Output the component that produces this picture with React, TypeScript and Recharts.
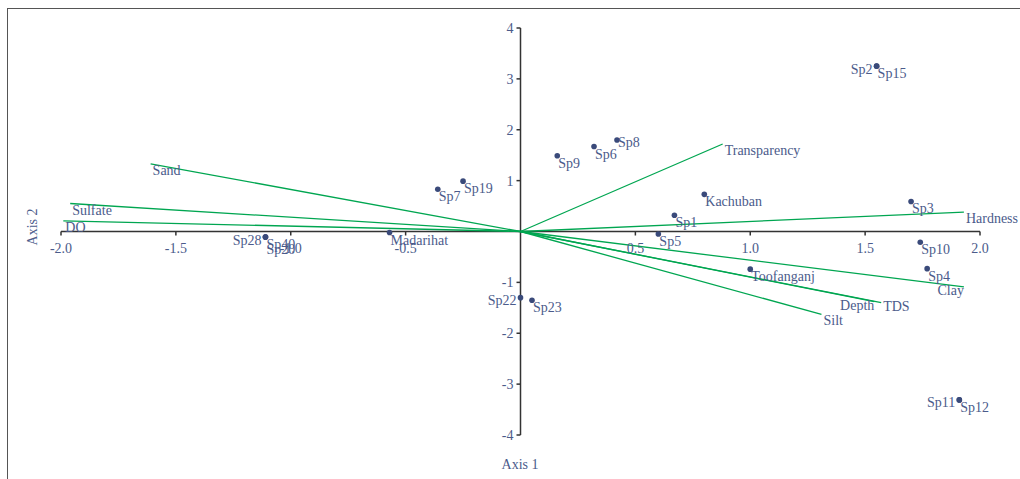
import React from 'react';
import {
  ScatterChart,
  Scatter,
  XAxis,
  YAxis,
  ReferenceLine,
} from 'recharts';

// Environmental vectors (biplot arrows)
const vectorNames = ['Sand', 'Sulfate', 'DO', 'Transparency', 'Hardness', 'Clay', 'TDS', 'Depth', 'Silt'];
const vectorX = [-1.61, -1.96, -1.99, 0.88, 1.93, 1.93, 1.57, 1.54, 1.31];
const vectorY = [1.33, 0.55, 0.21, 1.72, 0.38, -1.09, -1.40, -1.38, -1.63];

// Sites / species scores
const siteNames = [
  'Sp2', 'Sp15', 'Sp8', 'Sp6', 'Sp9', 'Sp19', 'Sp7', 'Madarihat', 'Sp28', 'Sp40', 'Sp20',
  'Kachuban', 'Sp1', 'Sp5', 'Sp3', 'Sp10', 'Sp4', 'Toofanganj', 'Sp11', 'Sp12', 'Sp22', 'Sp23',
];
const siteX = [1.55, 1.55, 0.42, 0.32, 0.16, -0.25, -0.36, -0.57, -1.11, -1.11, -1.11,
  0.80, 0.67, 0.60, 1.70, 1.74, 1.77, 1.00, 1.91, 1.91, 0.0, 0.05];
const siteY = [3.25, 3.25, 1.80, 1.67, 1.49, 0.99, 0.83, -0.02, -0.11, -0.11, -0.11,
  0.73, 0.32, -0.05, 0.59, -0.21, -0.73, -0.74, -3.31, -3.31, -1.30, -1.35];

const xTicks = [-2, -1.5, -1, -0.5, 0.5, 1, 1.5, 2];
const yTicks = [-4, -3, -2, -1, 1, 2, 3, 4];

// label placement tweaks (to avoid overlapping)
const leftLabels = ['Sp2', 'Sp28', 'Sp11', 'Sp22'];
const levelLabels = ['Sp8'];
const lowLabels = ['Sp20'];
const vectorEndLabels = ['Clay', 'Depth'];
const vectorHighLabels = ['TDS', 'Clay', 'Depth'];

const FONT = '"Liberation Serif", "Times New Roman", serif';
const TEXT = '#4b5b8b';
const DOT = '#3a4a7a';
const GREEN = '#00a651';
const AXIS = '#333';

const vectors = vectorNames.map((name, i) => ({ name, x: vectorX[i], y: vectorY[i] }));
const sites = siteNames.map((name, i) => ({ name, x: siteX[i], y: siteY[i] }));
const xTickData = xTicks.map(t => ({ x: t, y: 0 }));
const yTickData = yTicks.map(t => ({ x: 0, y: t }));

const XTick = ({ cx, cy, payload }: any) => (
  <g>
    <line x1={cx} y1={cy} x2={cx} y2={cy + 4} stroke={AXIS} strokeWidth={1.5} />
    <text x={cx} y={cy + 21} textAnchor="middle" fill={TEXT} fontSize={14} fontFamily={FONT}>
      {payload.x.toFixed(1)}
    </text>
  </g>
);

const YTick = ({ cx, cy, payload }: any) => (
  <g>
    <line x1={cx - 4} y1={cy} x2={cx} y2={cy} stroke={AXIS} strokeWidth={1.5} />
    <text x={cx - 7} y={cy + 5} textAnchor="end" fill={TEXT} fontSize={14} fontFamily={FONT}>
      {payload.y}
    </text>
  </g>
);

const SitePoint = ({ cx, cy, payload }: any) => {
  const left = leftLabels.includes(payload.name);
  const level = levelLabels.includes(payload.name);
  const low = lowLabels.includes(payload.name);
  const dy = left ? 7.5 : level ? 7 : low ? 17 : 12;
  return (
    <g>
      <circle cx={cx} cy={cy} r={2.8} fill={DOT} />
      <text
        x={left ? cx - 4 : cx + 1}
        y={cy + dy}
        textAnchor={left ? 'end' : 'start'}
        fill={TEXT}
        fontSize={14}
        fontFamily={FONT}
      >
        {payload.name}
      </text>
    </g>
  );
};

const VectorLabel = ({ cx, cy, payload }: any) => {
  const end = vectorEndLabels.includes(payload.name);
  const high = vectorHighLabels.includes(payload.name);
  return (
    <text
      x={end ? cx : cx + 2}
      y={cy + (high ? 8 : 11)}
      textAnchor={end ? 'end' : 'start'}
      fill={TEXT}
      fontSize={14}
      fontFamily={FONT}
    >
      {payload.name}
    </text>
  );
};

const App: React.FC = () => {
  return (
    <div style={{ position: 'absolute', left: 0, top: 0, width: 1020, height: 479, background: '#fff' }}>
      <div
        style={{
          position: 'absolute',
          left: 7,
          top: 8,
          width: 1013,
          height: 471,
          borderTop: '1.5px solid #555',
          borderLeft: '1.5px solid #555',
          boxSizing: 'border-box',
        }}
      />
      <div style={{ position: 'absolute', left: 0, top: 0 }}>
        <ScatterChart width={1020} height={479} margin={{ top: 28, right: 40, left: 61, bottom: 44 }}>
          <XAxis type="number" dataKey="x" domain={[-2, 2]} hide />
          <YAxis type="number" dataKey="y" domain={[-4, 4]} hide />

          {/* axes through the origin */}
          <ReferenceLine y={0} stroke={AXIS} strokeWidth={1.5} />
          <ReferenceLine x={0} stroke={AXIS} strokeWidth={1.5} />

          {/* environmental vectors */}
          {vectors.map(v => (
            <ReferenceLine
              key={v.name}
              segment={[{ x: 0, y: 0 }, { x: v.x, y: v.y }]}
              stroke={GREEN}
              strokeWidth={1.3}
            />
          ))}

          <Scatter data={xTickData} shape={<XTick />} isAnimationActive={false} />
          <Scatter data={yTickData} shape={<YTick />} isAnimationActive={false} />
          <Scatter data={vectors} shape={<VectorLabel />} isAnimationActive={false} />
          <Scatter data={sites} shape={<SitePoint />} isAnimationActive={false} />
        </ScatterChart>
      </div>
      <div
        style={{
          position: 'absolute',
          left: 470,
          top: 457,
          width: 100,
          textAlign: 'center',
          fontFamily: FONT,
          fontSize: 14,
          color: TEXT,
        }}
      >
        Axis 1
      </div>
      <div
        style={{
          position: 'absolute',
          left: -17,
          top: 219,
          width: 100,
          textAlign: 'center',
          fontFamily: FONT,
          fontSize: 14,
          color: TEXT,
          transform: 'rotate(-90deg)',
          transformOrigin: '50% 50%',
        }}
      >
        Axis 2
      </div>
    </div>
  );
};

export default App;
